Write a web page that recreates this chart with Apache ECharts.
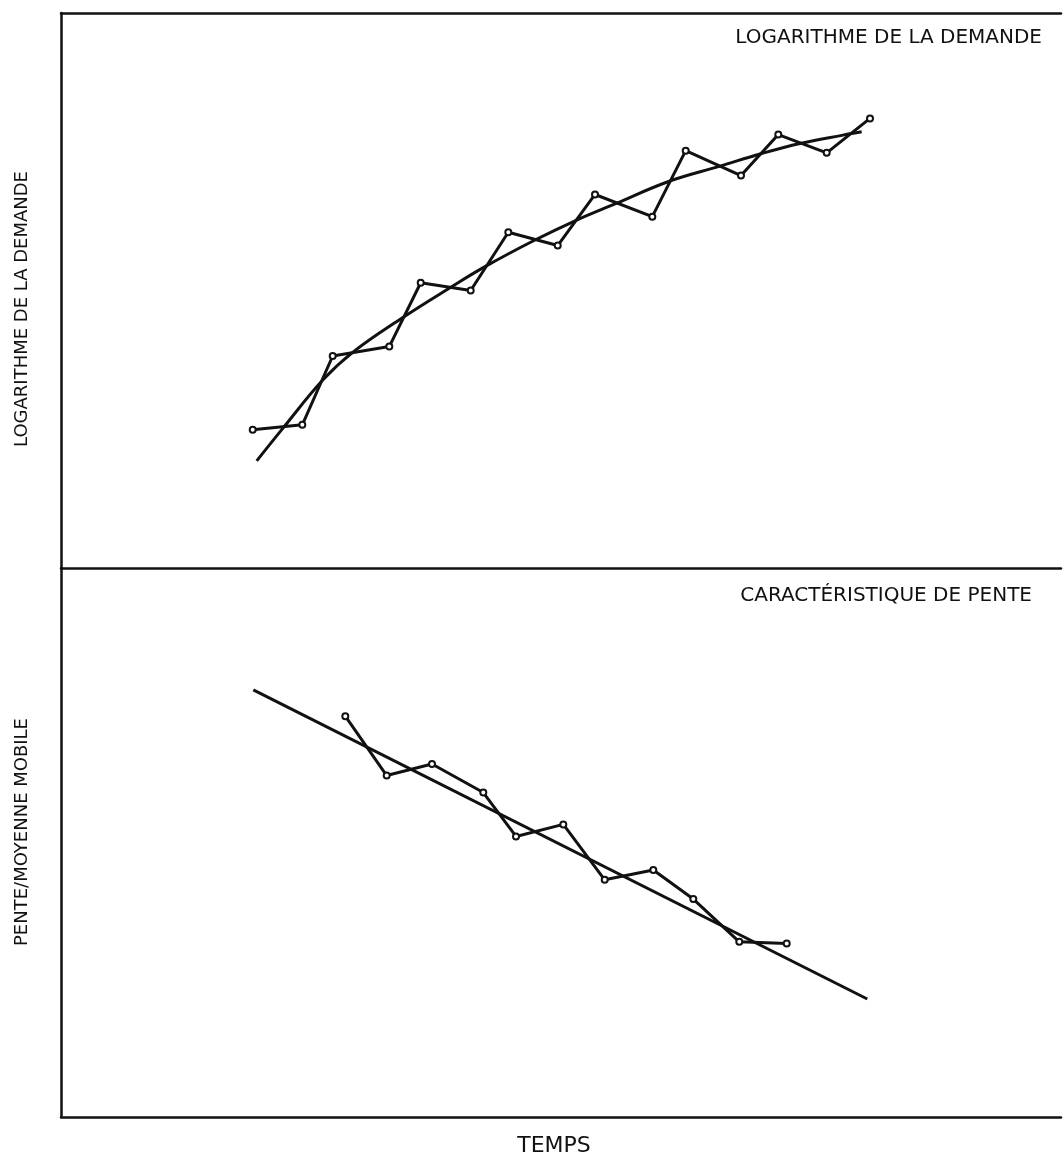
<!DOCTYPE html>
<html>
<head>
<meta charset="utf-8">
<script src="https://cdn.jsdelivr.net/npm/echarts@6/dist/echarts.min.js"></script>
<style>
html,body{margin:0;padding:0;background:#fff;}
#chart{width:1063px;height:1153px;}
</style>
</head>
<body>
<div id="chart"></div>
<script>
// Time axis in arbitrary units (0..100), value axes in arbitrary units (0..100)
const demandTime  = [19.17, 24.13, 27.17, 32.83, 35.97, 40.97, 44.73, 49.67, 53.4, 59.13, 62.47, 68.0, 71.73, 76.57, 80.9];
const demandLog   = [24.9, 25.8, 38.2, 39.9, 51.4, 50.0, 60.5, 58.1, 67.3, 63.3, 75.2, 70.7, 78.1, 74.8, 81.0];
const fitTime     = [19.57, 22.2, 26.2, 29.2, 34.07, 38.9, 42.4, 47.4, 51.57, 55.4, 60.7, 65.9, 69.9, 73.9, 78.2, 80.07];
const fitLog      = [19.3, 25.2, 33.9, 38.9, 45.0, 50.5, 54.3, 59.1, 62.7, 65.6, 69.6, 72.4, 74.6, 76.5, 78.0, 78.6];
const slopeTime   = [28.43, 32.57, 37.1, 42.23, 45.5, 50.23, 54.37, 59.23, 63.23, 67.83, 72.57];
const slopeValue  = [73.0, 62.2, 64.3, 59.1, 51.1, 53.3, 43.2, 45.0, 39.7, 31.9, 31.6];
const trendTime   = [19.23, 80.63];
const trendValue  = [77.8, 21.5];

const topTitle    = 'LOGARITHME DE LA DEMANDE';
const bottomTitle = 'CARACTÉRISTIQUE DE PENTE';
const topYLabel   = 'LOGARITHME DE LA DEMANDE';
const bottomYLabel= 'PENTE/MOYENNE MOBILE';
const xLabel      = 'TEMPS';

const zip = (a, b) => a.map((v, i) => [v, b[i]]);
const FONT = 'DejaVu Sans';
const ink = '#111';

const chart = echarts.init(document.getElementById('chart'), null, {renderer: 'canvas'});

const axisLine = {show: true, lineStyle: {color: ink, width: 2.5}};
const hidden = {show: false};

chart.setOption({
  animation: false,
  backgroundColor: '#fff',
  grid: [
    {left: 61, top: 13, width: 1000, height: 555},
    {left: 61, top: 568, width: 1000, height: 549}
  ],
  xAxis: [
    {gridIndex: 0, type: 'value', min: 0, max: 100, position: 'bottom', axisLine: axisLine, axisTick: hidden, axisLabel: hidden, splitLine: hidden},
    {gridIndex: 0, type: 'value', min: 0, max: 100, position: 'top', axisLine: axisLine, axisTick: hidden, axisLabel: hidden, splitLine: hidden},
    {gridIndex: 1, type: 'value', min: 0, max: 100, position: 'bottom', axisLine: axisLine, axisTick: hidden, axisLabel: hidden, splitLine: hidden}
  ],
  yAxis: [
    {gridIndex: 0, type: 'value', min: 0, max: 100, axisLine: axisLine, axisTick: hidden, axisLabel: hidden, splitLine: hidden},
    {gridIndex: 1, type: 'value', min: 0, max: 100, axisLine: axisLine, axisTick: hidden, axisLabel: hidden, splitLine: hidden}
  ],
  graphic: [
    {type: 'text', right: 21, top: 28, style: {text: topTitle, font: '20px "' + FONT + '"', fill: ink}},
    {type: 'text', right: 31, top: 586, style: {text: bottomTitle, font: '20px "' + FONT + '"', fill: ink}},
    {type: 'text', x: 22, y: 309, rotation: Math.PI / 2,
     style: {text: topYLabel, font: '18px "' + FONT + '"', fill: ink, align: 'center', verticalAlign: 'middle'}},
    {type: 'text', x: 22, y: 832, rotation: Math.PI / 2,
     style: {text: bottomYLabel, font: '18px "' + FONT + '"', fill: ink, align: 'center', verticalAlign: 'middle'}},
    {type: 'text', x: 554, y: 1146,
     style: {text: xLabel, font: '22px "' + FONT + '"', fill: ink, align: 'center', verticalAlign: 'middle'}}
  ],
  series: [
    {type: 'line', xAxisIndex: 0, yAxisIndex: 0, data: zip(fitTime, fitLog), smooth: 0.4,
     showSymbol: false, lineStyle: {color: ink, width: 3}, z: 2},
    {type: 'line', xAxisIndex: 0, yAxisIndex: 0, data: zip(demandTime, demandLog),
     symbol: 'emptyCircle', symbolSize: 6, itemStyle: {color: ink, borderColor: ink, borderWidth: 2},
     lineStyle: {color: ink, width: 3}, z: 3},
    {type: 'line', xAxisIndex: 2, yAxisIndex: 1, data: zip(trendTime, trendValue),
     showSymbol: false, lineStyle: {color: ink, width: 3}, z: 2},
    {type: 'line', xAxisIndex: 2, yAxisIndex: 1, data: zip(slopeTime, slopeValue),
     symbol: 'emptyCircle', symbolSize: 6, itemStyle: {color: ink, borderColor: ink, borderWidth: 2},
     lineStyle: {color: ink, width: 3}, z: 3}
  ]
});
</script>
</body>
</html>
